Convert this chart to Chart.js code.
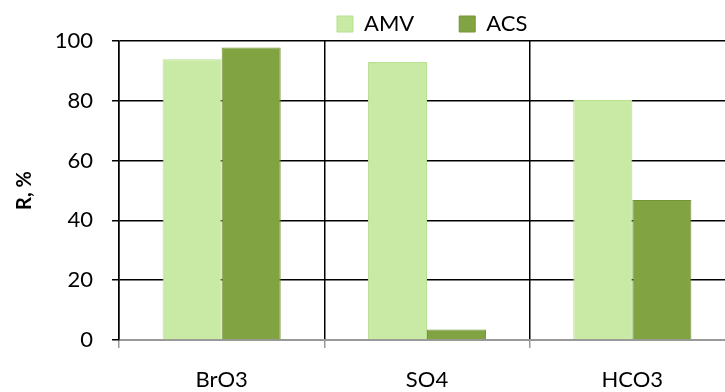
<!DOCTYPE html>
<html>
<head>
<meta charset="utf-8">
<script src="https://cdn.jsdelivr.net/npm/chart.js@4/dist/chart.umd.min.js"></script>
<style>
  html, body { margin: 0; padding: 0; overflow: hidden; background: #fff; }
  #wrap { width: 725px; height: 392px; overflow: hidden; }
</style>
</head>
<body>
<div id="wrap"><canvas id="chart" width="740" height="392"></canvas></div>
<script>
const categories = ['BrO3', 'SO4', 'HCO3'];
const amvValues = [93.9, 93.0, 80.3];
const acsValues = [97.8, 3.5, 46.8];
const yTicks = [0, 20, 40, 60, 80, 100];

const font = { family: 'Lato, "Liberation Sans", sans-serif', size: 22 };
const legendPadding = 45;

// fixed legend height, then move the legend to where the reference has it
const legendPlacement = {
  id: 'legendPlacement',
  beforeInit(chart) {
    const fit = chart.legend.fit;
    chart.legend.fit = function () {
      fit.call(this);
      this.height = 41;
    };
  },
  afterLayout(chart) {
    const legend = chart.legend;
    legend.left = 337 - legendPadding;
    legend.top = 24 - legendPadding - 11;
  },
};

new Chart(document.getElementById('chart'), {
  type: 'bar',
  data: {
    labels: categories,
    datasets: [
      {
        label: 'AMV',
        data: amvValues,
        backgroundColor: '#c8eaa4',
        borderColor: '#b8e090',
        borderWidth: 1,
      },
      {
        label: 'ACS',
        data: acsValues,
        backgroundColor: '#82a342',
        borderColor: '#74943a',
        borderWidth: 1,
      },
    ],
  },
  plugins: [legendPlacement],
  options: {
    responsive: false,
    animation: false,
    categoryPercentage: 0.575,
    barPercentage: 1,
    layout: { padding: { left: 0, right: 5, top: 0, bottom: 0 } },
    plugins: {
      tooltip: { enabled: false },
      legend: {
        position: 'top',
        align: 'start',
        labels: {
          font: font,
          color: '#000',
          boxWidth: 16,
          boxHeight: 16,
          padding: legendPadding,
        },
      },
    },
    scales: {
      x: {
        grid: {
          offset: true,
          color: '#000',
          lineWidth: 1.5,
          tickColor: '#999',
          tickLength: 8,
        },
        border: { color: '#999', width: 2 },
        ticks: { font: font, color: '#000', padding: 19 },
        afterFit: (scale) => { scale.height = 52; },
      },
      y: {
        min: 0,
        max: 100,
        afterBuildTicks: (scale) => {
          scale.ticks = yTicks.map((v) => ({ value: v }));
        },
        grid: {
          color: (ctx) => (ctx.tick && ctx.tick.value === 0 ? '#999' : '#000'),
          lineWidth: 1.5,
          tickColor: '#000',
          tickLength: 7,
        },
        border: { color: '#000', width: 1.5 },
        ticks: { font: font, color: '#000', padding: 19 },
        title: {
          display: true,
          text: 'R, %',
          color: '#000',
          font: { family: font.family, size: 20, weight: 'bold' },
          padding: { top: 13, bottom: 0 },
        },
        afterFit: (scale) => { scale.width = 119; },
      },
    },
  },
});
</script>
</body>
</html>
